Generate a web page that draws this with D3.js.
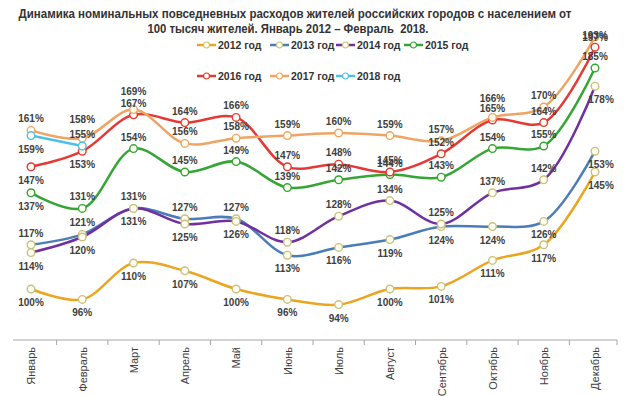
<!DOCTYPE html>
<html>
<head>
<meta charset="utf-8">
<script src="https://cdn.jsdelivr.net/npm/d3@7"></script>
<style>
  body { margin: 0; background: #fff; }
  text { font-family: "Liberation Sans", Arial, sans-serif; }
</style>
</head>
<body>
<div id="chart"></div>
<script>
var svgWidth = 640;
var svgHeight = 396;

// data
var months = ["Январь", "Февраль", "Март", "Апрель", "Май", "Июнь",
  "Июль", "Август", "Сентябрь", "Октябрь", "Ноябрь", "Декабрь"];
var years = ["2012 год", "2013 год", "2014 год", "2015 год", "2016 год", "2017 год", "2018 год"];
var s2012 = [100, 96, 110, 107, 100, 96, 94, 100, 101, 111, 117, 145];
var s2013 = [117, 121, 131, 127, 127, 113, 116, 119, 124, 124, 126, 153];
var s2014 = [114, 120, 131, 125, 126, 118, 128, 134, 125, 137, 142, 178];
var s2015 = [137, 131, 154, 145, 149, 139, 142, 144, 143, 154, 155, 185];
var s2016 = [147, 153, 167, 164, 166, 147, 148, 145, 152, 165, 164, 193];
var s2017 = [161, 158, 169, 156, 158, 159, 160, 159, 157, 166, 170, 197];
var s2018 = [159, 155];

// label placement: a = above, A = higher above, b = below, c = on the point
var place = [
  "bbbbbbbbbbbb",
  "aaaaabbbbbbb",
  "bbbbbaaaaaab",
  "baaaaaaaaaaa",
  "bbaaaaaaaaaa",
  "aAAaaaaaaAac",
  "ba"
];
var placeDy = { a: -8, A: -15, b: 17, c: 4 };

var colors = ["#EBA51E", "#4A7DB8", "#7030A0", "#35A535", "#E53935", "#F0A464", "#4CC0E8"];
var markStroke = ["#CBC07C", "#CBC07C", "#CBC07C", "#35A535", "#E53935", "#F0A464", "#4CC0E8"];

var series = [s2012, s2013, s2014, s2015, s2016, s2017, s2018];

var svg = d3.select("#chart").append("svg")
  .attr("width", svgWidth)
  .attr("height", svgHeight);

// title
var title = svg.append("g")
  .attr("fill", "#333")
  .attr("font-weight", "bold")
  .attr("font-size", "12px")
  .attr("text-anchor", "middle");
title.append("text")
  .attr("x", 295).attr("y", 18)
  .attr("textLength", 553).attr("lengthAdjust", "spacingAndGlyphs")
  .text("Динамика номинальных повседневных расходов жителей российских городов с населением от");
title.append("text")
  .attr("x", 288).attr("y", 33)
  .attr("textLength", 281).attr("lengthAdjust", "spacingAndGlyphs")
  .style("white-space", "pre")
  .text("100 тысяч жителей. Январь 2012 – Февраль  2018.");

// scales
var x = d3.scalePoint().domain(months).range([31, 595]);
var y = d3.scaleLinear().domain([80, 200]).range([341, 29]);
var step = x.step();

// x axis
var axisY = 340;
svg.append("line")
  .attr("x1", x(months[0]) - 18).attr("x2", x(months[11]) + 22)
  .attr("y1", axisY).attr("y2", axisY)
  .attr("stroke", "#A6A6A6").attr("stroke-width", 1);

svg.selectAll(".tick-mark")
  .data(months.slice(1).concat(["end"]))
  .enter().append("line")
  .attr("class", "tick-mark")
  .attr("x1", (d, i) => i < 11 ? x(months[i]) + step / 2 : x(months[11]) + 22)
  .attr("x2", (d, i) => i < 11 ? x(months[i]) + step / 2 : x(months[11]) + 22)
  .attr("y1", axisY).attr("y2", axisY + 5)
  .attr("stroke", "#A6A6A6");

var xAxis = svg.append("g")
  .attr("transform", `translate(0, ${axisY})`)
  .call(d3.axisBottom(x).tickSize(0).tickPadding(0));
xAxis.select(".domain").remove();
xAxis.selectAll("text")
  .attr("transform", "rotate(-90)")
  .attr("text-anchor", "end")
  .attr("x", -7)
  .attr("y", 0)
  .attr("dy", "0.35em")
  .attr("fill", "#404040")
  .attr("font-size", "11px")
  .style("font-family", "'Liberation Sans', Arial, sans-serif");

// lines
var line = d3.line()
  .defined(d => d != null)
  .x((d, i) => x(months[i]))
  .y(d => y(d))
  .curve(d3.curveCatmullRom.alpha(0.5));

var plot = svg.append("g");
series.forEach(function(s, k) {
  plot.append("path")
    .datum(s)
    .attr("fill", "none")
    .attr("stroke", colors[k])
    .attr("stroke-width", 2.5)
    .attr("d", line);
});

series.forEach(function(s, k) {
  plot.selectAll(".m" + k)
    .data(s)
    .enter().append("circle")
    .attr("class", "m" + k)
    .attr("cx", (d, i) => x(months[i]))
    .attr("cy", d => y(d))
    .attr("r", 3.8)
    .attr("fill", "#FFFFF4")
    .attr("stroke", markStroke[k])
    .attr("stroke-width", 1.4);
});

// value labels
series.forEach(function(s, k) {
  plot.selectAll(".l" + k)
    .data(s)
    .enter().append("text")
    .attr("class", "l" + k)
    .attr("x", (d, i) => x(months[i]) + (i == 11 && place[k][i] == "b" ? 6 : 0))
    .attr("y", (d, i) => y(d) + placeDy[place[k][i]])
    .attr("text-anchor", "middle")
    .attr("font-size", "10px")
    .attr("font-weight", "bold")
    .attr("fill", "#404040")
    .text(d => d + "%");
});

// legend
var legendPos = [[197, 45], [270, 45], [336, 45], [404, 45], [197, 76], [270, 76], [336, 76]];
var legend = svg.selectAll(".legend")
  .data(years)
  .enter().append("g")
  .attr("class", "legend")
  .attr("transform", (d, i) => `translate(${legendPos[i][0]}, ${legendPos[i][1]})`);

legend.append("line")
  .attr("x1", 0).attr("x2", 19)
  .attr("stroke", (d, i) => colors[i])
  .attr("stroke-width", 2.5);
legend.append("circle")
  .attr("cx", 9.5).attr("r", 3)
  .attr("fill", "#FFFFF4")
  .attr("stroke", (d, i) => markStroke[i])
  .attr("stroke-width", 1.2);
legend.append("text")
  .attr("x", 21).attr("dy", "0.35em")
  .attr("font-size", "10.5px")
  .attr("font-weight", "bold")
  .attr("fill", "#333")
  .text(d => d);
</script>
</body>
</html>
